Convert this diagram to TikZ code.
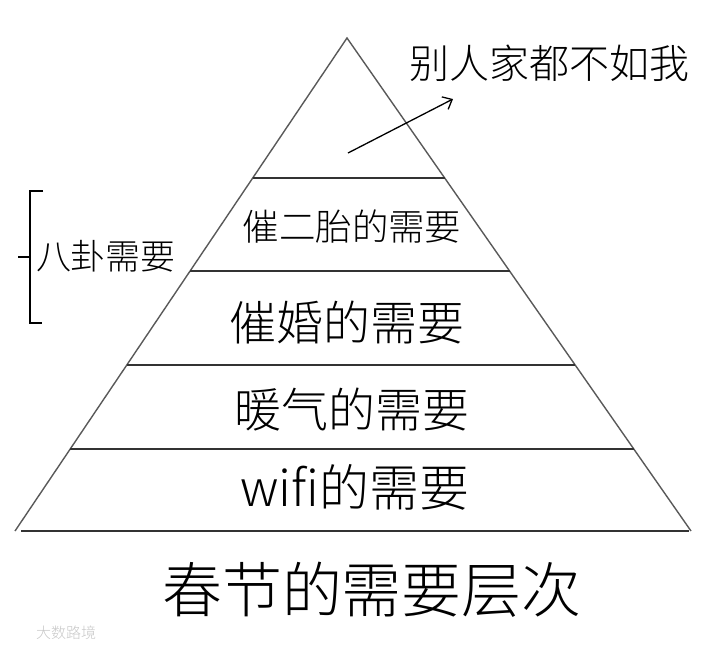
\documentclass[tikz,border=0pt]{standalone}
\usepackage{fontspec}
\setmainfont{Noto Sans CJK SC}[UprightFont={* Light}]
\usetikzlibrary{arrows.meta}

\tikzset{
  edge/.style={line width=1.4pt, black!65},
  level/.style={line width=1.6pt, black!80},
  label/.style={inner sep=0pt, text=black}
}

\begin{document}
\begin{tikzpicture}[x=1pt,y=-1pt]
\useasboundingbox (0,0) rectangle (716,649);
% pyramid outline
\coordinate (apex) at (347.0000,38.0000);
\coordinate (bl) at (15.0000,531.0000);
\coordinate (br) at (691.0000,531.0000);
\draw[edge] (bl) -- (apex) -- (br);
% levels
\draw[level] (252.7000,178.0000) -- (444.7000,178.0000);
\draw[level] (190.1000,271.0000) -- (509.6000,271.0000);
\draw[level] (126.8000,365.0000) -- (575.2000,365.0000);
\draw[level] (70.2000,449.0000) -- (633.8000,449.0000);
\draw[level] (21.0000,531.0000) -- (689.0000,531.0000);
% labels
\node[label, font=\fontsize{36.5}{40}\selectfont] (erTai) at (352.0000,227.0000) {催二胎的需要};
\node[label, font=\fontsize{47}{50}\selectfont] (cuiHun) at (347.0000,323.0000) {催婚的需要};
\node[label, font=\fontsize{47}{50}\selectfont] (nuanQi) at (352.0000,410.0000) {暖气的需要};
\node[label, font=\fontsize{50}{54}\selectfont] (wifi) at (355.0000,487.0000) {wifi的需要};
\node[label, font=\fontsize{60}{64}\selectfont] (title) at (372.0000,590.0000) {春节的需要层次};
\node[label, font=\fontsize{40}{44}\selectfont] (bieRen) at (549.0000,63.0000) {别人家都不如我};
% arrow to the top
\coordinate (arrStart) at (348.0000,153.0000);
\coordinate (arrEnd) at (453.0000,99.0000);
\draw[line width=1.3pt, -{Straight Barb[length=8pt,width=14pt]}] (arrStart) -- (arrEnd);
% brace on the left
\draw[line width=1.5pt] (43.0000,191.0000) -- (30.0000,191.0000) -- (30.0000,323.0000) -- (42.0000,323.0000);
\draw[line width=1.5pt] (18.0000,257.0000) -- (30.0000,257.0000);
\node[label, font=\fontsize{35}{38}\selectfont] (baGua) at (106.0000,256.0000) {八卦需要};
% watermark
\node[label, text=black!22, font=\fontsize{15}{17}\selectfont] (mark) at (66.0000,633.0000) {大数路境};
\end{tikzpicture}
\end{document}
